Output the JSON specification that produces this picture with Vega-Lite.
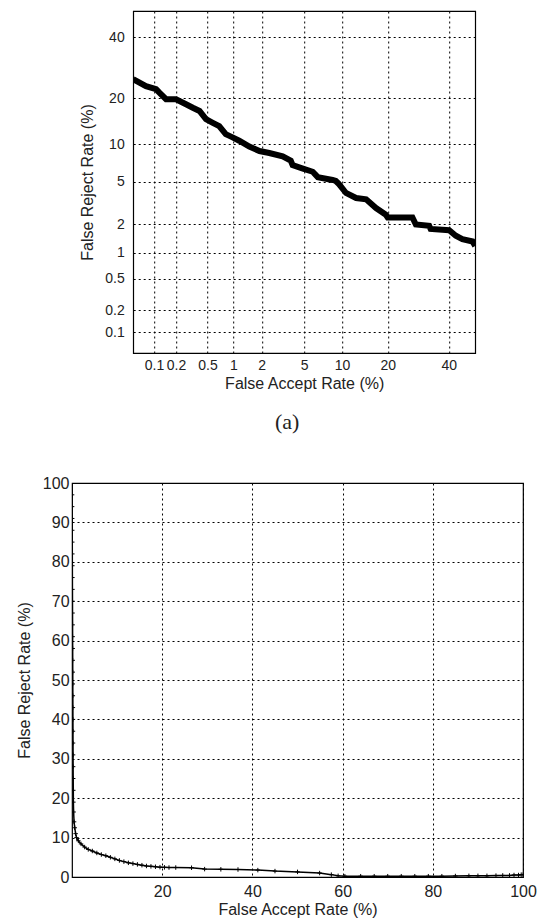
{
  "$schema": "https://vega.github.io/schema/vega-lite/v6.json",
  "background": "white",
  "padding": {"left": 15, "top": 10, "right": 0, "bottom": 4},
  "center": true,
  "spacing": 40,
  "config": {
    "view": {"stroke": "#000", "strokeWidth": 1.2},
    "axis": {
      "labelFont": "Liberation Sans",
      "titleFont": "Liberation Sans",
      "labelColor": "#222",
      "titleColor": "#222",
      "titleFontWeight": "normal",
      "domain": false,
      "ticks": false,
      "grid": true,
      "gridColor": "#000",
      "gridDash": [2, 3],
      "gridOpacity": 1,
      "gridWidth": 1,
      "labelOverlap": false,
      "labelFlush": false
    }
  },
  "vconcat": [
    {
      "width": 342,
      "height": 342,
      "title": {"text": "(a)", "orient": "bottom", "font": "Liberation Serif", "fontSize": 22, "fontWeight": "normal", "color": "#222", "offset": 21, "anchor": "middle", "frame": "group", "dx": -17},
      "data": {"values": [
        {"far": 0.05, "frr": 25.6}, {"far": 0.077, "frr": 23.5}, {"far": 0.107, "frr": 22.6}, {"far": 0.119, "frr": 21.6},
        {"far": 0.147, "frr": 19.8}, {"far": 0.2, "frr": 19.8}, {"far": 0.27, "frr": 18.5}, {"far": 0.33, "frr": 17.6},
        {"far": 0.4, "frr": 16.8}, {"far": 0.48, "frr": 14.9}, {"far": 0.58, "frr": 14.1}, {"far": 0.69, "frr": 13.4},
        {"far": 0.82, "frr": 11.8}, {"far": 0.98, "frr": 11.2}, {"far": 1.16, "frr": 10.6}, {"far": 1.49, "frr": 9.6},
        {"far": 1.9, "frr": 8.9}, {"far": 2.38, "frr": 8.6}, {"far": 3.2, "frr": 8.1}, {"far": 3.8, "frr": 7.5},
        {"far": 3.95, "frr": 6.9}, {"far": 4.8, "frr": 6.5}, {"far": 5.9, "frr": 6.1}, {"far": 6.5, "frr": 5.5},
        {"far": 8.5, "frr": 5.2}, {"far": 9.0, "frr": 5.1}, {"far": 9.5, "frr": 4.8}, {"far": 10.7, "frr": 4.0},
        {"far": 12.6, "frr": 3.6}, {"far": 14.7, "frr": 3.5}, {"far": 17.0, "frr": 2.9}, {"far": 19.5, "frr": 2.5},
        {"far": 20.0, "frr": 2.35}, {"far": 27.3, "frr": 2.35}, {"far": 28.4, "frr": 2.0}, {"far": 32.9, "frr": 1.94},
        {"far": 33.4, "frr": 1.8}, {"far": 40.1, "frr": 1.75}, {"far": 42.6, "frr": 1.53}, {"far": 45.1, "frr": 1.41},
        {"far": 49.0, "frr": 1.33}, {"far": 50.0, "frr": 1.19}
      ]},
      "transform": [
        {"calculate": "quantileNormal(datum.far / 100)", "as": "zfar"},
        {"calculate": "quantileNormal(datum.frr / 100)", "as": "zfrr"}
      ],
      "mark": {"type": "line", "color": "#000", "strokeWidth": 6, "clip": true, "strokeJoin": "miter"},
      "encoding": {
        "x": {
          "field": "zfar", "type": "quantitative",
          "scale": {"domain": [-3.29, 0], "nice": false, "zero": false},
          "axis": {
            "values": [-3.0902, -2.8782, -2.5758, -2.3263, -2.0537, -1.6449, -1.2816, -0.8416, -0.2533],
            "labelExpr": "format(cumulativeNormal(datum.value) * 100, '.1~f')",
            "labelFontSize": 14, "labelPadding": 5,
            "title": "False Accept Rate (%)", "titleFontSize": 16, "titlePadding": 3
          }
        },
        "y": {
          "field": "zfrr", "type": "quantitative",
          "scale": {"domain": [-3.29, 0], "nice": false, "zero": false},
          "axis": {
            "values": [-3.0902, -2.8782, -2.5758, -2.3263, -2.0537, -1.6449, -1.2816, -0.8416, -0.2533],
            "labelExpr": "format(cumulativeNormal(datum.value) * 100, '.1~f')",
            "labelFontSize": 14, "labelPadding": 9,
            "title": "False Reject Rate (%)", "titleFontSize": 16, "titlePadding": 9
          }
        }
      }
    },
    {
      "width": 451,
      "height": 394,
      "data": {"values": [
        {"far": 0, "frr": 100}, {"far": 0.01, "frr": 97}, {"far": 0.02, "frr": 94}, {"far": 0.03, "frr": 91},
        {"far": 0.04, "frr": 88}, {"far": 0.05, "frr": 85}, {"far": 0.06, "frr": 82}, {"far": 0.07, "frr": 79},
        {"far": 0.08, "frr": 76}, {"far": 0.09, "frr": 73}, {"far": 0.1, "frr": 70}, {"far": 0.11, "frr": 67},
        {"far": 0.12, "frr": 64}, {"far": 0.13, "frr": 61}, {"far": 0.14, "frr": 58}, {"far": 0.15, "frr": 55},
        {"far": 0.16, "frr": 52}, {"far": 0.17, "frr": 49}, {"far": 0.18, "frr": 46}, {"far": 0.19, "frr": 43},
        {"far": 0.2, "frr": 40}, {"far": 0.21, "frr": 37}, {"far": 0.22, "frr": 34}, {"far": 0.23, "frr": 31},
        {"far": 0.24, "frr": 28}, {"far": 0.26, "frr": 25}, {"far": 0.28, "frr": 22}, {"far": 0.3, "frr": 19},
        {"far": 0.35, "frr": 16.5}, {"far": 0.45, "frr": 14}, {"far": 0.6, "frr": 12.5}, {"far": 0.8, "frr": 11},
        {"far": 1.0, "frr": 10}, {"far": 1.4, "frr": 9.2}, {"far": 2.0, "frr": 8.4}, {"far": 2.8, "frr": 7.6},
        {"far": 3.6, "frr": 7.0}, {"far": 4.5, "frr": 6.6}, {"far": 5.5, "frr": 6.1}, {"far": 6.5, "frr": 5.7},
        {"far": 7.5, "frr": 5.4}, {"far": 8.5, "frr": 5.0}, {"far": 9.5, "frr": 4.6}, {"far": 10.5, "frr": 4.2},
        {"far": 11.5, "frr": 3.9}, {"far": 12.5, "frr": 3.6}, {"far": 13.5, "frr": 3.4}, {"far": 14.5, "frr": 3.2},
        {"far": 15.5, "frr": 3.0}, {"far": 16.5, "frr": 2.8}, {"far": 17.5, "frr": 2.7}, {"far": 18.5, "frr": 2.6},
        {"far": 19.5, "frr": 2.5}, {"far": 20.5, "frr": 2.45}, {"far": 21.5, "frr": 2.4}, {"far": 23, "frr": 2.4},
        {"far": 26.5, "frr": 2.35}, {"far": 29.4, "frr": 2.0}, {"far": 33, "frr": 1.95}, {"far": 36.8, "frr": 1.9},
        {"far": 41.2, "frr": 1.75}, {"far": 45, "frr": 1.5}, {"far": 50, "frr": 1.3}, {"far": 54.9, "frr": 1.0},
        {"far": 57.5, "frr": 0.6}, {"far": 59, "frr": 0.3}, {"far": 60.5, "frr": 0.2}, {"far": 64, "frr": 0.2},
        {"far": 67, "frr": 0.2}, {"far": 70, "frr": 0.2}, {"far": 73, "frr": 0.2}, {"far": 76, "frr": 0.2},
        {"far": 79, "frr": 0.2}, {"far": 82, "frr": 0.2}, {"far": 85, "frr": 0.25}, {"far": 88, "frr": 0.3},
        {"far": 90, "frr": 0.3}, {"far": 92, "frr": 0.3}, {"far": 94, "frr": 0.35}, {"far": 95.5, "frr": 0.4},
        {"far": 97, "frr": 0.4}, {"far": 98, "frr": 0.5}, {"far": 99, "frr": 0.5}, {"far": 99.6, "frr": 0.6},
        {"far": 100, "frr": 0.6}
      ]},
      "encoding": {
        "x": {
          "field": "far", "type": "quantitative",
          "scale": {"domain": [0, 100], "nice": false},
          "axis": {
            "values": [20, 40, 60, 80, 100],
            "labelFontSize": 16, "labelPadding": 6,
            "title": "False Accept Rate (%)", "titleFontSize": 16, "titlePadding": 2
          }
        },
        "y": {
          "field": "frr", "type": "quantitative",
          "scale": {"domain": [0, 100], "nice": false},
          "axis": {
            "values": [0, 10, 20, 30, 40, 50, 60, 70, 80, 90, 100],
            "labelFontSize": 16, "labelPadding": 3,
            "title": "False Reject Rate (%)", "titleFontSize": 16, "titlePadding": 10
          }
        }
      },
      "layer": [
        {"mark": {"type": "line", "color": "#000", "strokeWidth": 1.5, "clip": true}},
        {"mark": {"type": "point", "shape": "M-1,0H1M0,-1V1", "filled": false, "color": "#000", "strokeWidth": 1, "size": 20, "opacity": 1, "clip": true}}
      ]
    }
  ]
}
